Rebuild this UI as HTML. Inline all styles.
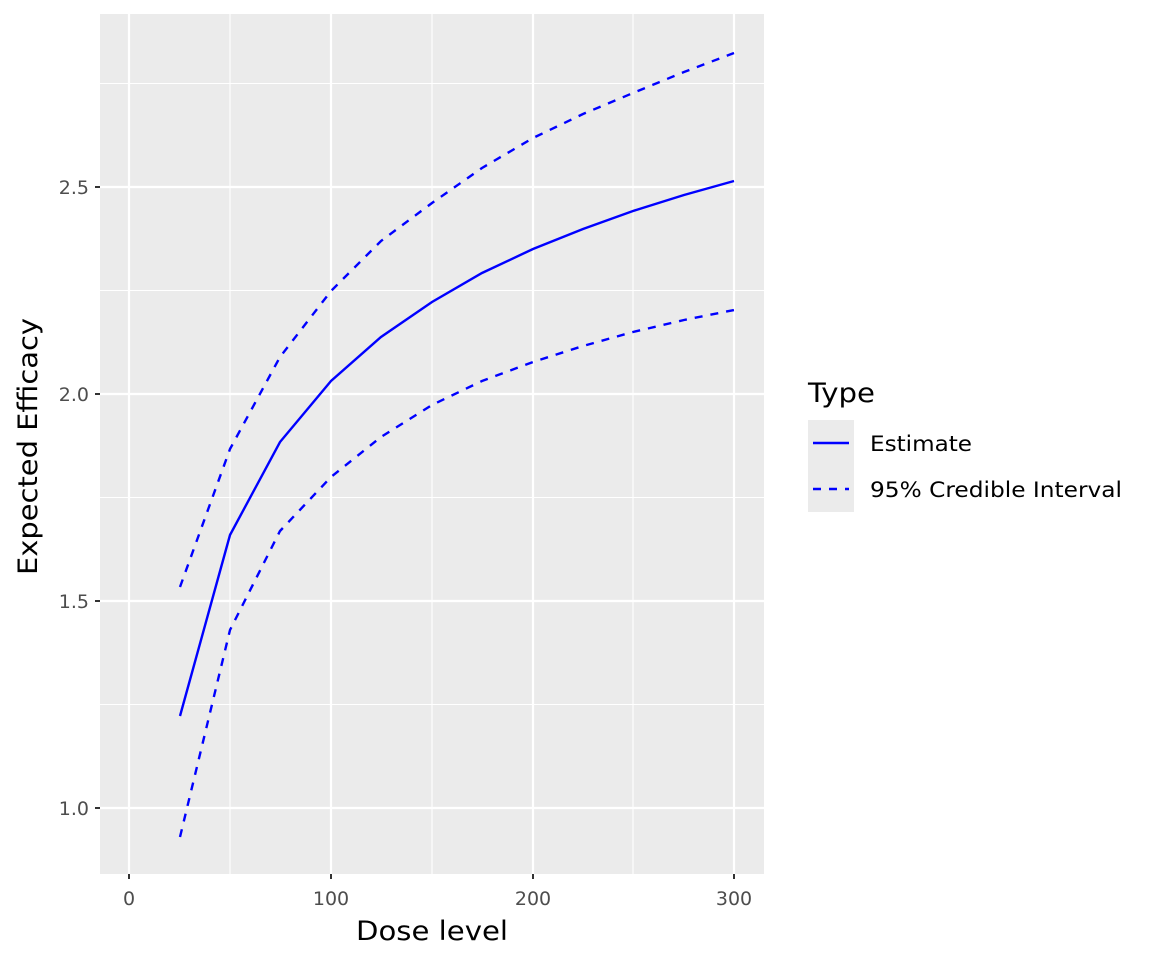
<!DOCTYPE html>
<html><head><meta charset="utf-8"><style>body{margin:0;background:#fff}svg{display:block}</style></head><body>
<svg width="1152" height="960" xmlns="http://www.w3.org/2000/svg" font-family="'DejaVu Sans','Liberation Sans',sans-serif">
<rect x="100" y="14" width="664" height="860" fill="#ebebeb"/>
<g stroke="#fff" stroke-width="1.1">
<line x1="100" x2="764" y1="704.5" y2="704.5"/><line x1="100" x2="764" y1="497.5" y2="497.5"/><line x1="100" x2="764" y1="290.5" y2="290.5"/><line x1="100" x2="764" y1="83.5" y2="83.5"/>
<line y1="14" y2="874" x1="230" x2="230"/><line y1="14" y2="874" x1="432" x2="432"/><line y1="14" y2="874" x1="633" x2="633"/>
</g>
<g stroke="#fff" stroke-width="2.2">
<line x1="100" x2="764" y1="808" y2="808"/><line x1="100" x2="764" y1="601" y2="601"/><line x1="100" x2="764" y1="394" y2="394"/><line x1="100" x2="764" y1="187" y2="187"/>
<line y1="14" y2="874" x1="129" x2="129"/><line y1="14" y2="874" x1="331" x2="331"/><line y1="14" y2="874" x1="533" x2="533"/><line y1="14" y2="874" x1="734" x2="734"/>
</g>
<g fill="none" stroke="#0000ff" stroke-width="2.4">
<polyline points="180,716 230,535 280,442 331,381 381,337 432,302 482,273 533,249 583,229 633,211 684,195 734,181"/>
<polyline stroke-dasharray="8,8" points="180,587 230,449 280,357 331,291 381,241 432,203 482,168 533,138 583,114 633,93 684,72 734,53"/>
<polyline stroke-dasharray="8,8" points="180,837 230,630 280,531 331,477 381,437 432,405 482,381 533,362 583,346 633,332 684,320 734,310"/>
</g>
<g stroke="#333" stroke-width="2">
<line x1="95" x2="100" y1="808" y2="808"/><line x1="95" x2="100" y1="601" y2="601"/><line x1="95" x2="100" y1="394" y2="394"/><line x1="95" x2="100" y1="187" y2="187"/>
<line y1="874" y2="879" x1="129" x2="129"/><line y1="874" y2="879" x1="331" x2="331"/><line y1="874" y2="879" x1="533" x2="533"/><line y1="874" y2="879" x1="734" x2="734"/>
</g>
<g fill="#4d4d4d" font-size="19" text-anchor="end">
<text x="89" y="815">1.0</text><text x="89" y="608">1.5</text><text x="89" y="401">2.0</text><text x="89" y="194">2.5</text>
</g>
<g fill="#4d4d4d" font-size="19" text-anchor="middle">
<text x="129" y="905">0</text><text x="331" y="905">100</text><text x="533" y="905">200</text><text x="734" y="905">300</text>
</g>
<text x="356" y="940" font-size="27" textLength="152" lengthAdjust="spacingAndGlyphs">Dose level</text>
<text transform="translate(37,575) rotate(-90)" font-size="27" textLength="257" lengthAdjust="spacingAndGlyphs">Expected Efficacy</text>
<text x="808" y="402" font-size="27" textLength="67" lengthAdjust="spacingAndGlyphs">Type</text>
<rect x="808" y="420" width="46" height="92" fill="#ebebeb"/>
<line x1="813" x2="849" y1="443" y2="443" stroke="#0000ff" stroke-width="2.4"/>
<line x1="813" x2="849" y1="489" y2="489" stroke="#0000ff" stroke-width="2.4" stroke-dasharray="8,8"/>
<text x="870" y="451" font-size="21" textLength="102" lengthAdjust="spacingAndGlyphs">Estimate</text>
<text x="870" y="497" font-size="21" textLength="252" lengthAdjust="spacingAndGlyphs">95% Credible Interval</text>
</svg>
</body></html>
